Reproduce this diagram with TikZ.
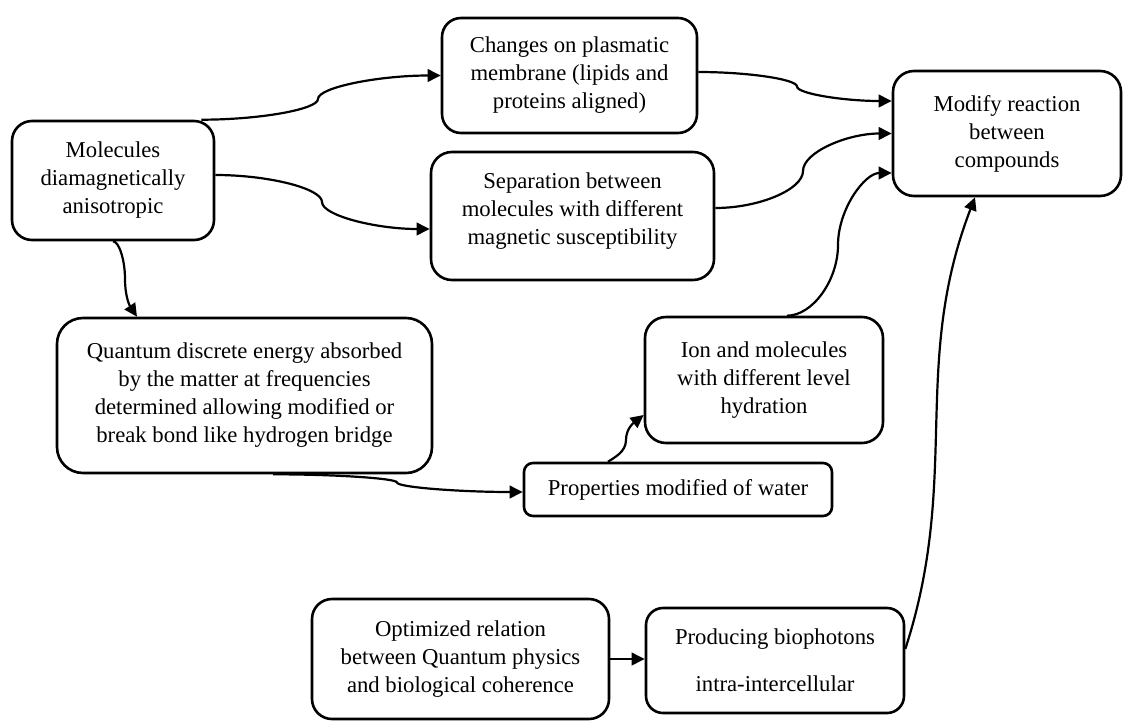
\documentclass[tikz,border=0pt]{standalone}
\usepackage{fontspec}
\setmainfont{Liberation Serif}
\usetikzlibrary{arrows.meta,calc}
\newcommand\wconn[3]{%
  \coordinate (wcA) at (#2 |- #1);
  \coordinate (wcB) at (#2 |- #3);
  \draw[conn] (#1) .. controls ($(#1)!0.5!(wcA)$) and ($(wcA)!0.5!(#2)$) .. (#2)
    .. controls ($(#2)!0.5!(wcB)$) and ($(wcB)!0.5!(#3)$) .. (#3);}
\begin{document}
\begin{tikzpicture}[x=1pt,y=-1pt,
  box/.style={draw=black, line width=2.6pt, align=center, inner sep=0pt,
    font=\fontsize{22.7}{28}\selectfont},
  txt/.style={align=center, inner sep=0pt, font=\fontsize{22.7}{28}\selectfont},
  conn/.style={line width=2.2pt, -{Triangle[length=13pt,width=12.5pt]}},
]
\useasboundingbox (0,0) rectangle (1123,720);

% boxes
\node[box, rounded corners=20pt, minimum width=202pt, minimum height=119pt] (mol) at (113,180.5)
  {Molecules\\diamagnetically\\anisotropic};
\node[box, rounded corners=19pt, minimum width=255pt, minimum height=115pt] (chg) at (569.5,75.5)
  {Changes on plasmatic\\membrane (lipids and\\proteins aligned)};
\node[box, rounded corners=21pt, minimum width=283pt, minimum height=128pt] (sep) at (572.5,216) {};
\node[txt] (sept) at (572.5,211.5)
  {Separation between\\molecules with different\\magnetic susceptibility};
\node[box, rounded corners=21pt, minimum width=228pt, minimum height=125pt] (mod) at (1007,133.5)
  {Modify reaction\\between\\compounds};
\node[box, rounded corners=26pt, minimum width=375pt, minimum height=155pt] (qua) at (244.5,395.5)
  {Quantum discrete energy absorbed\\by the matter at frequencies\\determined allowing modified or\\break bond like hydrogen bridge};
\node[box, rounded corners=9pt, minimum width=308pt, minimum height=53pt] (pro) at (678,489.5)
  {Properties modified of water};
\node[box, rounded corners=21pt, minimum width=238pt, minimum height=126pt] (ion) at (764,380)
  {Ion and molecules\\with different level\\hydration};
\node[box, rounded corners=20pt, minimum width=297pt, minimum height=120pt] (opt) at (460.5,659)
  {Optimized relation\\between Quantum physics\\and biological coherence};
\node[box, rounded corners=17pt, minimum width=258pt, minimum height=105pt] (prod) at (775,660.5)
  {Producing biophotons\\[19pt]intra-intercellular};

% connector end points and kinks
\coordinate (a1) at ($(mol.north east)+(-14,0)$);
\coordinate (m1) at (318,99);
\coordinate (b1) at (chg.west);

\coordinate (a2) at ($(mol.east)+(0,-5.5)$);
\coordinate (m2) at (322,202);
\coordinate (b2) at ($(sep.west)+(0,13)$);

\coordinate (a3) at (mol.south);
\coordinate (m3) at (125,279);
\coordinate (b3) at ($(qua.north)+(-107.5,0)$);

\coordinate (a4) at ($(chg.east)+(0,-3.5)$);
\coordinate (m4) at (797,86.5);
\coordinate (b4) at ($(mod.west)+(0,-32.5)$);

\coordinate (a5) at ($(sep.east)+(0,-8)$);
\coordinate (m5) at (803,171);
\coordinate (b5) at (mod.west);

\coordinate (a6) at ($(ion.north)+(23,0)$);
\coordinate (m6) at (838,245);
\coordinate (b6) at ($(mod.west)+(0,39.5)$);

\coordinate (a7) at ($(qua.south)+(28.5,0)$);
\coordinate (m7) at (397,482.5);
\coordinate (b7) at ($(pro.west)+(0,2.5)$);

\coordinate (a8) at ($(pro.north)+(-70,0)$);
\coordinate (m8) at (626,440);
\coordinate (b8) at ($(ion.west)+(0,35)$);

\coordinate (a10) at ($(prod.east)+(0,-11.5)$);
\coordinate (b10) at ($(mod.south)+(-32,0)$);

% connectors
\wconn{a1}{m1}{b1}
\wconn{a2}{m2}{b2}
\draw[conn] (a3) .. controls ($(a3)+(6,0)$) and ($(m3)+(0,-19)$) .. (m3)
  .. controls ($(m3)+(0,16)$) and ($(b3)+(-8,-12)$) .. (b3);
\wconn{a4}{m4}{b4}
\wconn{a5}{m5}{b5}
\wconn{a6}{m6}{b6}
\wconn{a7}{m7}{b7}
\draw[conn] (a8) .. controls ($(a8)+(6,-4)$) and ($(m8)+(0,12)$) .. (m8)
  .. controls ($(m8)+(0,-12)$) and ($(b8)+(-9,7)$) .. (b8);
\draw[conn] (opt.east) -- (opt.east -| prod.west);
\draw[conn] (a10) .. controls ($(a10)+(55.6,-171.2)$) and ($(b10)+(-64.5,168)$) .. (b10);
\end{tikzpicture}
\end{document}
